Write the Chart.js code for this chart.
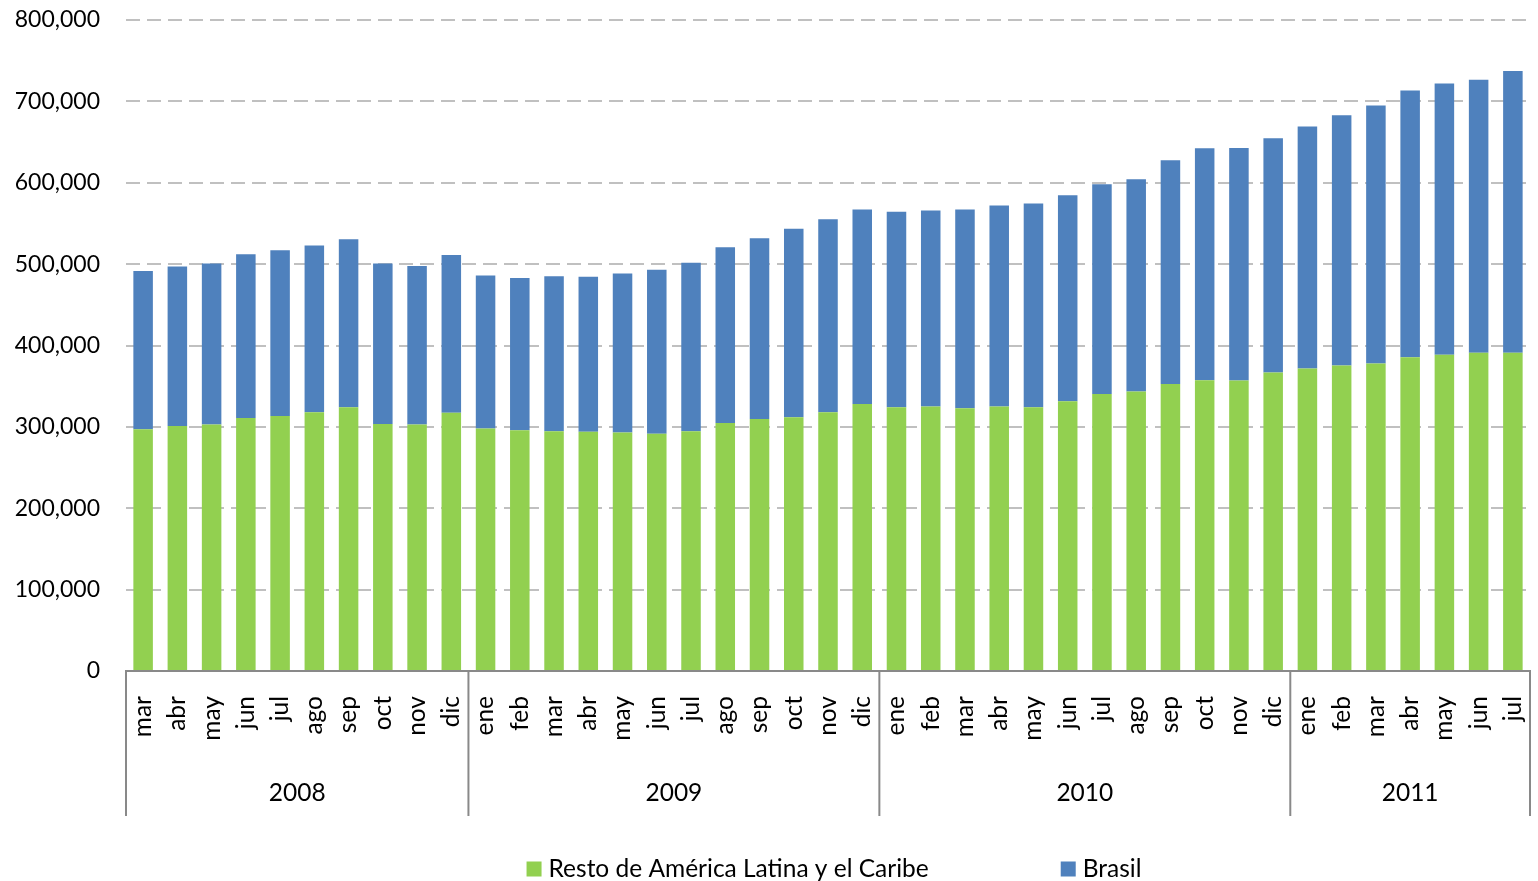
<!DOCTYPE html>
<html>
<head>
<meta charset="utf-8">
<script src="https://cdn.jsdelivr.net/npm/chart.js@4.4.1/dist/chart.umd.min.js"></script>
<style>
    html, body { margin: 0; padding: 0; background: #ffffff; }
    #wrap { width: 1538px; height: 881px; }
</style>
</head>
<body>
<div id="wrap"><canvas id="chart" width="1538" height="881"></canvas></div>
<script>
// months shown on the category axis (mar 2008 - jul 2011)
var months = [
    'mar', 'abr', 'may', 'jun', 'jul', 'ago', 'sep', 'oct', 'nov', 'dic',
    'ene', 'feb', 'mar', 'abr', 'may', 'jun', 'jul', 'ago', 'sep', 'oct', 'nov', 'dic',
    'ene', 'feb', 'mar', 'abr', 'may', 'jun', 'jul', 'ago', 'sep', 'oct', 'nov', 'dic',
    'ene', 'feb', 'mar', 'abr', 'may', 'jun', 'jul'
];
var years = ['2008', '2009', '2010', '2011'];
var yearSpans = [10, 12, 12, 7];

var restoValues = [
    297000, 301000, 303000, 311000, 313500, 318000, 324000, 303500, 303000, 317500,
    298000, 296000, 294500, 294000, 293000, 291700, 294500, 304800, 309700, 311800, 318000, 328200,
    324000, 325000, 322800, 325000, 324000, 331400, 340500, 343400, 352800, 357300, 357000, 366800,
    371700, 375400, 377800, 385600, 388500, 391000, 391000
];
var brasilValues = [
    194400, 196200, 197900, 201000, 203400, 205000, 206500, 197400, 194600, 193700,
    188000, 187000, 190500, 190500, 195600, 201300, 207300, 215800, 222000, 231800, 237000, 238800,
    240500, 240800, 244200, 246900, 250400, 253200, 257700, 260900, 274900, 285200, 285800, 288000,
    297400, 307600, 317200, 327900, 333500, 335500, 346200
];
var yTicks = [0, 100000, 200000, 300000, 400000, 500000, 600000, 700000, 800000];

var fontFamily = 'Lato, "Noto Sans", sans-serif';
var axisGray = '#898989';

function formatNumber(value) {
    return value.toLocaleString('en-US');
}

// month labels, year groups, separators and legend under the plot
var categoryAxisPlugin = {
    id: 'categoryAxis',
    afterDraw: function (chart) {
        var ctx = chart.ctx;
        var x = chart.scales.x;
        var area = chart.chartArea;
        var n = months.length;

        function edge(i) {
            if (i <= 0) return x.left;
            if (i >= n) return x.right;
            return (x.getPixelForValue(i - 1) + x.getPixelForValue(i)) / 2;
        }

        ctx.save();
        ctx.fillStyle = '#000000';
        ctx.font = '24.5px ' + fontFamily;

        // rotated month names
        for (var i = 0; i < n; i++) {
            ctx.save();
            ctx.translate(x.getPixelForValue(i), area.bottom + 25);
            ctx.rotate(-Math.PI / 2);
            ctx.textAlign = 'right';
            ctx.textBaseline = 'middle';
            ctx.fillText(months[i], 0, 0);
            ctx.restore();
        }

        // year labels and separators
        var start = 0;
        ctx.strokeStyle = axisGray;
        ctx.lineWidth = 2;
        ctx.textAlign = 'center';
        ctx.textBaseline = 'middle';
        for (var j = 0; j < years.length; j++) {
            var left = edge(start);
            var right = edge(start + yearSpans[j]);
            ctx.beginPath();
            ctx.moveTo(left, area.bottom);
            ctx.lineTo(left, area.bottom + 145);
            ctx.stroke();
            ctx.fillText(years[j], (left + right) / 2, area.bottom + 122);
            start += yearSpans[j];
        }
        ctx.beginPath();
        ctx.moveTo(edge(n), area.bottom);
        ctx.lineTo(edge(n), area.bottom + 145);
        ctx.stroke();

        // legend
        var box = 15, textGap = 7, itemGap = 132;
        var items = chart.data.datasets;
        var widths = items.map(function (ds) { return box + textGap + ctx.measureText(ds.label).width; });
        var total = widths.reduce(function (a, b) { return a + b; }, 0) + itemGap * (items.length - 1);
        var lx = (area.left + area.right) / 2 + 6 - total / 2;
        var ly = area.bottom + 198;
        ctx.textAlign = 'left';
        items.forEach(function (ds, k) {
            ctx.fillStyle = ds.backgroundColor;
            ctx.fillRect(lx, ly - box / 2, box, box);
            ctx.fillStyle = '#000000';
            ctx.fillText(ds.label, lx + box + textGap, ly);
            lx += widths[k] + itemGap;
        });
        ctx.restore();
    }
};

var chart = new Chart(document.getElementById('chart'), {
    type: 'bar',
    data: {
        labels: months,
        datasets: [
            {
                label: 'Resto de América Latina y el Caribe',
                data: restoValues,
                backgroundColor: '#92D050',
                barPercentage: 0.57,
                categoryPercentage: 1
            },
            {
                label: 'Brasil',
                data: brasilValues,
                backgroundColor: '#4F81BD',
                barPercentage: 0.57,
                categoryPercentage: 1
            }
        ]
    },
    options: {
        responsive: false,
        animation: false,
        layout: {
            padding: { top: 20, right: 8, bottom: 202, left: 0 }
        },
        plugins: {
            legend: { display: false },
            tooltip: { enabled: false }
        },
        scales: {
            x: {
                stacked: true,
                grid: { display: false },
                border: { display: true, color: axisGray, width: 2 },
                ticks: { display: false }
            },
            y: {
                stacked: true,
                min: 0,
                max: 800000,
                afterFit: function (scale) {
                    scale.width = 126;
                    scale.paddingTop = 0;
                    scale.paddingBottom = 0;
                },
                afterBuildTicks: function (scale) {
                    scale.ticks = yTicks.map(function (v) { return { value: v }; });
                },
                border: { display: false, dash: [14, 7] },
                grid: {
                    drawTicks: false,
                    lineWidth: 2,
                    color: function (c) { return c.tick && c.tick.value === 0 ? 'rgba(0,0,0,0)' : '#c0c0c0'; }
                },
                ticks: {
                    padding: 26,
                    color: '#000000',
                    font: { family: fontFamily, size: 23 },
                    callback: function (value) { return formatNumber(value); }
                }
            }
        }
    },
    plugins: [categoryAxisPlugin]
});
</script>
</body>
</html>
